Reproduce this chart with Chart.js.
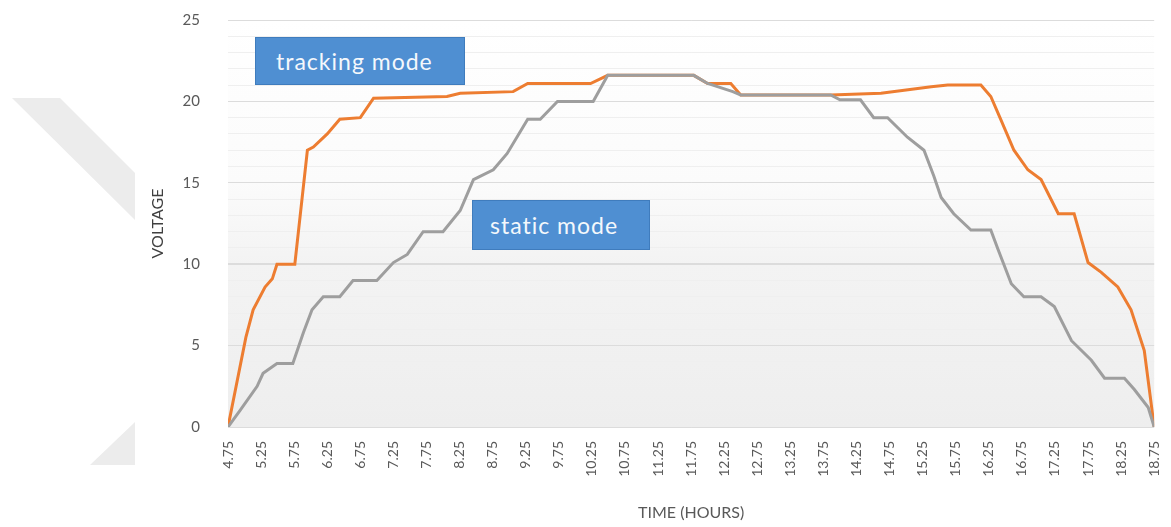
<!DOCTYPE html>
<html>
<head>
<meta charset="utf-8">
<script src="https://cdn.jsdelivr.net/npm/chart.js@4.4.1/dist/chart.umd.min.js"></script>
<style>
  html, body { margin: 0; padding: 0; background: #fff; }
  #wrap { position: relative; width: 1171px; height: 527px; }
  .tag {
    position: absolute;
    background: #4f8fd2;
    border: 1px solid #3f7cbd;
    color: #f4f8fc;
    font-family: Lato, "Open Sans", sans-serif;
    font-size: 23px;
    letter-spacing: 1px;
    line-height: 46px;
    box-sizing: border-box;
  }
</style>
</head>
<body>
<div id="wrap">
  <canvas id="voltChart" width="1171" height="527"></canvas>
  <div class="tag" style="left:255px; top:37px; width:210px; height:48px; padding-left:20px;">tracking mode</div>
  <div class="tag" style="left:472px; top:200px; width:178px; height:50px; padding-left:17px; line-height:48px;">static mode</div>
</div>
<script>
  // Values (time in hours, voltage in V)
  const trackingTime = [4.75, 5.02, 5.13, 5.31, 5.42, 5.49, 5.76, 5.95, 6.04, 6.25, 6.44, 6.75, 6.95, 8.06, 8.26, 9.06, 9.28,
    10.23, 10.49, 11.79, 12.0, 12.35, 12.5, 13.86, 14.62, 15.38, 15.63, 16.13, 16.28, 16.43, 16.63, 16.84, 17.04,
    17.3, 17.54, 17.75, 17.95, 18.2, 18.4, 18.6, 18.75];
  const trackingVolt = [0, 5.5, 7.2, 8.6, 9.1, 10.0, 10.0, 17.0, 17.2, 18.0, 18.9, 19.0, 20.2, 20.3, 20.5, 20.6, 21.1,
    21.1, 21.6, 21.6, 21.1, 21.1, 20.4, 20.4, 20.5, 20.9, 21.0, 21.0, 20.3, 18.9, 17.0, 15.8, 15.2,
    13.1, 13.1, 10.1, 9.5, 8.6, 7.2, 4.7, 0];

  const staticTime = [4.75, 4.93, 5.19, 5.28, 5.49, 5.73, 5.89, 6.02, 6.19, 6.44, 6.64, 7.0, 7.25, 7.46, 7.7, 8.0, 8.26,
    8.46, 8.76, 8.97, 9.28, 9.47, 9.73, 10.27, 10.49, 11.79, 12.0, 12.38, 12.5, 13.86, 14.0, 14.31, 14.51, 14.72,
    15.02, 15.27, 15.42, 15.53, 15.72, 15.98, 16.28, 16.39, 16.59, 16.78, 17.04, 17.24, 17.5, 17.8, 18.0, 18.3,
    18.45, 18.66, 18.75];
  const staticVolt = [0, 1.0, 2.5, 3.3, 3.9, 3.9, 5.8, 7.2, 8.0, 8.0, 9.0, 9.0, 10.1, 10.6, 12.0, 12.0, 13.3,
    15.2, 15.8, 16.8, 18.9, 18.9, 20.0, 20.0, 21.6, 21.6, 21.1, 20.6, 20.4, 20.4, 20.1, 20.1, 19.0, 19.0,
    17.8, 17.0, 15.4, 14.1, 13.1, 12.1, 12.1, 10.9, 8.8, 8.0, 8.0, 7.4, 5.3, 4.1, 3.0, 3.0,
    2.3, 1.2, 0];

  const yLabels = [0, 5, 10, 15, 20, 25];

  const toPoints = (xs, ys) => xs.map((x, i) => ({ x: x, y: ys[i] }));

  // grey chevron behind the chart and the shaded plot background
  const backdrop = {
    id: 'backdrop',
    beforeDraw(chart) {
      const c = chart.ctx;
      const a = chart.chartArea;
      c.save();
      c.fillStyle = '#ececec';
      c.beginPath();
      c.moveTo(12, 98); c.lineTo(60, 98); c.lineTo(135, 173); c.lineTo(135, 220);
      c.closePath();
      c.fill();
      c.beginPath();
      c.moveTo(90, 465); c.lineTo(135, 422); c.lineTo(135, 465);
      c.closePath();
      c.fill();
      const y = chart.scales.y;
      const g = c.createLinearGradient(0, a.top, 0, a.bottom);
      g.addColorStop(0, '#ffffff');
      g.addColorStop((y.getPixelForValue(15) - a.top) / a.height, '#fbfbfb');
      g.addColorStop((y.getPixelForValue(10) - a.top) / a.height, '#f3f3f3');
      g.addColorStop(1, '#eeeeee');
      c.fillStyle = g;
      c.fillRect(a.left, a.top, a.width, a.height);
      c.restore();
    }
  };

  const fam = 'Lato, "Open Sans", sans-serif';
  const clear = 'rgba(0,0,0,0)';

  new Chart(document.getElementById('voltChart'), {
    type: 'line',
    data: {
      datasets: [
        {
          label: 'static mode',
          data: toPoints(staticTime, staticVolt),
          borderColor: '#9e9e9e',
          borderWidth: 3,
          pointRadius: 0,
          tension: 0
        },
        {
          label: 'tracking mode',
          data: toPoints(trackingTime, trackingVolt),
          borderColor: '#ed7d31',
          borderWidth: 3,
          pointRadius: 0,
          tension: 0
        }
      ]
    },
    options: {
      responsive: false,
      animation: false,
      layout: { padding: { left: 140, right: 0, top: 20, bottom: 0 } },
      plugins: { legend: { display: false }, tooltip: { enabled: false } },
      scales: {
        x: {
          type: 'linear',
          min: 4.75,
          max: 18.75,
          afterFit(scale) { scale.height = 100; },
          grid: { display: true, drawOnChartArea: false, drawTicks: true, tickLength: 14, tickColor: clear },
          border: { display: false },
          ticks: {
            stepSize: 0.5,
            autoSkip: false,
            minRotation: 90,
            maxRotation: 90,
            padding: 0,
            color: '#595959',
            font: { family: fam, size: 14 },
            callback: v => v.toFixed(2)
          },
          title: {
            display: true,
            text: 'TIME (HOURS)',
            color: '#595959',
            font: { family: fam, size: 16 },
            padding: { top: 0, bottom: 5 }
          }
        },
        y: {
          min: 0,
          max: 25,
          afterFit(scale) { scale.width = 88; },
          grid: {
            drawTicks: true,
            tickLength: 26,
            tickColor: clear,
            color: ctx => (ctx.tick && ctx.tick.value % 5 === 0) ? '#dcdcdc' : '#efefef',
            lineWidth: ctx => (ctx.tick && ctx.tick.value === 10) ? 2 : 1
          },
          border: { display: false },
          ticks: {
            stepSize: 1,
            autoSkip: false,
            padding: 2,
            color: '#595959',
            font: { family: fam, size: 15 },
            callback: v => yLabels.includes(v) ? String(v) : ''
          },
          title: {
            display: true,
            text: 'VOLTAGE',
            color: '#404040',
            font: { family: fam, size: 16 },
            padding: { top: 8, bottom: 0 }
          }
        }
      }
    },
    plugins: [backdrop]
  });
</script>
</body>
</html>
